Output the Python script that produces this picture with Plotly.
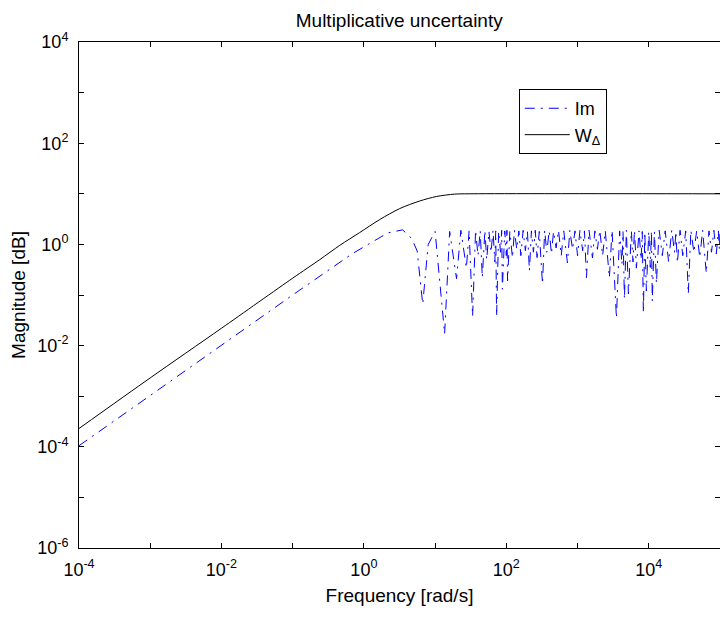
import plotly.graph_objects as go

# ---- data ----
w_freq = [1e-4, 1e-3, 1e-2, 1e-1, 0.24, 0.46, 0.87, 1.67, 3.18, 6.06, 10.5, 18.8, 30, 1e5]
w_mag = [2.3e-4, 2.3e-3, 2.2e-2, 0.215, 0.5, 0.96, 1.71, 3.1, 5.1, 7.2, 8.85, 9.86, 10, 10]

im_freq = [1e-4, 1e-3, 1e-2, 1e-1, 0.68, 1.2, 2.17, 3.5, 4.7, 5.6, 6.7, 8.0, 10, 13.6,
           16, 20, 23, 27.5, 30, 33.6, 37, 40, 43, 46, 50, 53, 57, 61, 65, 69, 71, 73,
           78, 83, 86, 88, 95, 100, 102, 104, 112, 122, 130, 140, 150, 160, 172, 185,
           198, 211, 225, 240, 255, 270, 290, 322, 345, 370, 400, 430, 460, 500, 540,
           590, 640, 721, 780, 850, 920, 1000, 1080, 1180, 1250, 1333, 1450, 1620,
           1750, 1900, 2050, 2250, 2450, 2800, 3050, 3515, 3900, 4200, 4350, 4550,
           4850, 5175, 5700, 6000, 6300, 6700, 7300, 7800, 8100, 8400, 8800, 9250,
           10000, 10500, 10900, 11200, 12000, 12800, 14000, 15500, 17000, 19000,
           21000, 23000, 24000, 25200, 27500, 30000, 33000, 35900, 39000, 43000,
           47000, 52000, 57000, 64200, 70000, 76000, 82000, 88700, 95000, 98000, 100000]
im_mag = [1.05e-4, 1.04e-3, 1.02e-2, 0.1, 0.65, 1.05, 1.69, 1.94, 1.3, 0.74, 0.066, 1.0, 1.8, 0.017,
          1.8, 0.21, 1.9, 0.34, 1.85, 0.038, 1.9, 0.6, 1.85, 0.22, 1.9, 0.5, 1.8, 0.7, 1.9, 0.45, 1.85, 0.038,
          1.8, 0.7, 1.9, 0.13, 1.85, 0.6, 1.9, 0.19, 1.8, 0.54, 1.9, 0.8, 1.85, 0.6, 1.9, 0.75,
          1.8, 0.30, 1.85, 0.7, 1.9, 0.55, 1.8, 0.165, 1.9, 0.7, 1.85, 0.65, 1.8, 0.85, 1.9,
          0.6, 1.85, 0.43, 1.9, 0.8, 1.85, 0.6, 1.9, 0.75, 1.85, 0.22, 1.9, 0.54,
          1.85, 0.8, 1.9, 0.6, 1.85, 0.22, 1.9, 0.035, 1.85, 0.4, 1.8, 0.083,
          1.9, 0.105, 1.85, 0.45, 1.9, 0.34, 1.85, 0.5, 1.8, 0.044, 1.75, 0.12,
          1.8, 0.35, 1.85, 0.076, 1.8, 0.17, 1.9, 0.6, 1.85, 0.45,
          1.9, 0.7, 1.8, 0.43, 1.9, 0.6, 1.85, 0.105, 1.9, 0.7,
          1.85, 0.55, 1.9, 0.27, 1.85, 0.7, 1.9, 0.65, 1.85, 0.8, 1.8]

x_tick_exp = [-4, -3, -2, -1, 0, 1, 2, 3, 4, 5]
y_tick_exp = [-6, -5, -4, -3, -2, -1, 0, 1, 2, 3, 4]

FONT = "Liberation Sans"


def tick_text(exps):
    return ["10<sup>%d</sup>" % e if e % 2 == 0 else "" for e in exps]


fig = go.Figure()
fig.add_trace(go.Scatter(x=im_freq, y=im_mag, mode="lines", name="Im",
                         line=dict(color="#0000FF", width=1, dash="10px,6px,2px,6px")))
fig.add_trace(go.Scatter(x=w_freq, y=w_mag, mode="lines", name="W<sub>Δ</sub>",
                         line=dict(color="#000000", width=1, shape="spline", smoothing=0.8)))

axis_common = dict(type="log", showgrid=False, zeroline=False, showline=True,
                   linecolor="#000000", linewidth=1, mirror="ticks", ticks="inside",
                   ticklen=5, tickcolor="#000000", tickwidth=1,
                   tickfont=dict(family=FONT, size=18, color="#000000"))

fig.update_xaxes(range=[-4, 5], tickvals=[10.0 ** e for e in x_tick_exp],
                 ticktext=tick_text(x_tick_exp), ticklabelstandoff=5,
                 title=dict(text="Frequency [rad/s]", font=dict(family=FONT, size=19, color="#000000"),
                            standoff=10),
                 **axis_common)
fig.update_yaxes(range=[-6, 4], tickvals=[10.0 ** e for e in y_tick_exp],
                 ticktext=tick_text(y_tick_exp), ticklabelstandoff=6,
                 title=dict(text="Magnitude [dB]", font=dict(family=FONT, size=19, color="#000000"),
                            standoff=6),
                 **axis_common)

fig.update_layout(
    width=720, height=619,
    margin=dict(l=79, r=0, t=42, b=71),
    paper_bgcolor="#FFFFFF", plot_bgcolor="#FFFFFF",
    font=dict(family=FONT, size=18, color="#000000"),
    title=dict(text="Multiplicative uncertainty", x=0.5545, xanchor="center",
               y=1 - 20 / 619, yanchor="middle", yref="container",
               font=dict(family=FONT, size=19, color="#000000")),
    legend=dict(x=0.686, y=0.907, xanchor="left", yanchor="top",
                bgcolor="#FFFFFF", bordercolor="#000000", borderwidth=1,
                font=dict(family=FONT, size=18, color="#000000"),
                itemwidth=45, tracegroupgap=0),
    showlegend=True,
)

fig.write_html("out.html")
